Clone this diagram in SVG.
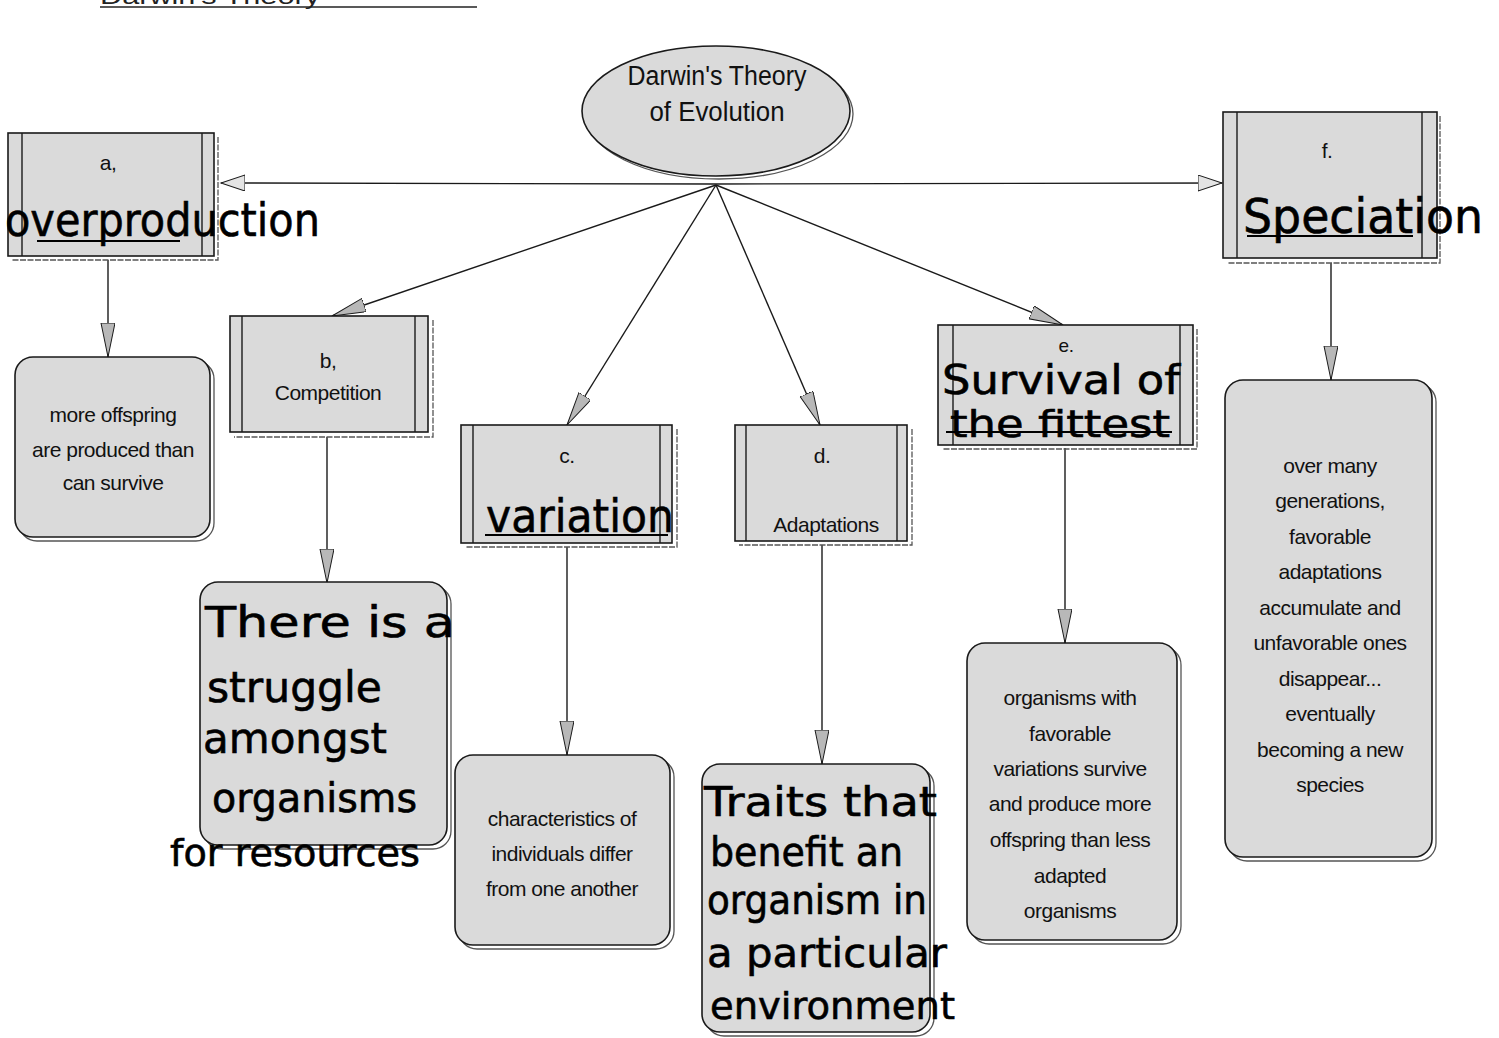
<svg xmlns="http://www.w3.org/2000/svg" width="1499" height="1038" viewBox="0 0 1499 1038">
<style>
.bg{fill:#ffffff}
.box{fill:#dadada;stroke:#1a1a1a;stroke-width:1.6}
.in{stroke:#1a1a1a;stroke-width:1.4;fill:none}
.sh{fill:none;stroke:#555;stroke-width:1.3;stroke-dasharray:6 1.5}
.t{font-family:"Liberation Sans",Arial,sans-serif;font-size:21px;fill:#111;text-anchor:middle;letter-spacing:-0.5px}
.hw{font-family:"DejaVu Sans",sans-serif;fill:#000;stroke:#000;stroke-width:0.6}
.ul{stroke:#000;stroke-width:2.2;fill:none}
.cn{stroke:#1a1a1a;stroke-width:1.4;fill:none}
</style>
<defs>
<marker id="ah" markerUnits="userSpaceOnUse" markerWidth="36" markerHeight="16" refX="34" refY="7" orient="auto">
<path d="M0,0 L34,7 L0,14 Z" fill="#b8b8b8" stroke="#1a1a1a" stroke-width="1"/>
</marker>
<marker id="ahw" markerUnits="userSpaceOnUse" markerWidth="26" markerHeight="18" refX="24" refY="8" orient="auto">
<path d="M0,0 L24,8 L0,16 Z" fill="#e4e4e4" stroke="#1a1a1a" stroke-width="1"/>
</marker>
</defs>
<rect class="bg" x="0" y="0" width="1499" height="1038"/>

<g id="title">
<text x="100" y="4" style="font-family:'Liberation Sans',Arial,sans-serif;font-size:22px;fill:#222" textLength="220" lengthAdjust="spacingAndGlyphs">Darwin's Theory</text>
<line x1="100" y1="7" x2="477" y2="7" stroke="#222" stroke-width="1.6"/>
</g>

<g id="connectors">
<line class="cn" x1="716" y1="184" x2="221" y2="183" marker-end="url(#ahw)"/>
<line class="cn" x1="716" y1="184" x2="1222" y2="183" marker-end="url(#ahw)"/>
<line class="cn" x1="716" y1="185" x2="332" y2="316" marker-end="url(#ah)"/>
<line class="cn" x1="716" y1="185" x2="567" y2="425" marker-end="url(#ah)"/>
<line class="cn" x1="716" y1="185" x2="820" y2="425" marker-end="url(#ah)"/>
<line class="cn" x1="716" y1="185" x2="1063" y2="325" marker-end="url(#ah)"/>
<line class="cn" x1="108" y1="260" x2="108" y2="357" marker-end="url(#ah)"/>
<line class="cn" x1="327" y1="437" x2="327" y2="583" marker-end="url(#ah)"/>
<line class="cn" x1="567" y1="547" x2="567" y2="755" marker-end="url(#ah)"/>
<line class="cn" x1="822" y1="545" x2="822" y2="764" marker-end="url(#ah)"/>
<line class="cn" x1="1065" y1="448" x2="1065" y2="643" marker-end="url(#ah)"/>
<line class="cn" x1="1331" y1="263" x2="1331" y2="380" marker-end="url(#ah)"/>
</g>

<g id="center">
<ellipse cx="719" cy="114" rx="134" ry="65" fill="none" stroke="#555" stroke-width="1.3"/>
<ellipse cx="716" cy="111" rx="134" ry="65" class="box"/>
<text x="717" y="85" style="font-family:'Liberation Sans',Arial,sans-serif;font-size:27px;fill:#111;text-anchor:middle" textLength="179" lengthAdjust="spacingAndGlyphs">Darwin's Theory</text>
<text x="717" y="121" style="font-family:'Liberation Sans',Arial,sans-serif;font-size:27px;fill:#111;text-anchor:middle" textLength="135" lengthAdjust="spacingAndGlyphs">of Evolution</text>
</g>

<g id="a">
<path class="sh" d="M218,137 V260 H12"/>
<rect class="box" x="8" y="133" width="206" height="123"/>
<line class="in" x1="22" y1="133" x2="22" y2="256"/>
<line class="in" x1="202" y1="133" x2="202" y2="256"/>
<text class="t" x="108" y="170">a,</text>
<text class="hw" x="5" y="236" style="font-size:46px" textLength="315" lengthAdjust="spacingAndGlyphs">overproduction</text>
<line class="ul" x1="37" y1="241" x2="180" y2="241"/>
</g>

<g id="a1">
<rect x="19" y="361" width="195" height="180" rx="18" class="sh" style="stroke-dasharray:none"/>
<rect x="15" y="357" width="195" height="180" rx="18" class="box"/>
<text class="t" x="113" y="422">more offspring</text>
<text class="t" x="113" y="457">are produced than</text>
<text class="t" x="113" y="490">can survive</text>
</g>

<g id="b">
<path class="sh" d="M433,320 V437 H234"/>
<rect class="box" x="230" y="316" width="198" height="116"/>
<line class="in" x1="242" y1="316" x2="242" y2="432"/>
<line class="in" x1="415" y1="316" x2="415" y2="432"/>
<text class="t" x="328" y="368">b,</text>
<text class="t" x="328" y="400">Competition</text>
</g>

<g id="b1">
<rect x="204" y="586" width="247" height="263" rx="18" class="sh" style="stroke-dasharray:none"/>
<rect x="200" y="582" width="247" height="263" rx="18" class="box"/>
<text class="hw" x="205" y="637" style="font-size:42px" textLength="250" lengthAdjust="spacingAndGlyphs">There is a</text>
<text class="hw" x="207" y="702" style="font-size:42px" textLength="175" lengthAdjust="spacingAndGlyphs">struggle</text>
<text class="hw" x="203" y="753" style="font-size:42px" textLength="184" lengthAdjust="spacingAndGlyphs">amongst</text>
<text class="hw" x="212" y="812" style="font-size:40px" textLength="205" lengthAdjust="spacingAndGlyphs">organisms</text>
<text class="hw" x="170" y="866" style="font-size:38px" textLength="250" lengthAdjust="spacingAndGlyphs">for resources</text>
</g>

<g id="c">
<path class="sh" d="M677,429 V547 H465"/>
<rect class="box" x="461" y="425" width="211" height="118"/>
<line class="in" x1="473" y1="425" x2="473" y2="543"/>
<line class="in" x1="660" y1="425" x2="660" y2="543"/>
<text class="t" x="567" y="463">c.</text>
<text class="hw" x="486" y="532" style="font-size:46px" textLength="188" lengthAdjust="spacingAndGlyphs">variation</text>
<line class="ul" x1="485" y1="535" x2="668" y2="535"/>
</g>

<g id="c1">
<rect x="459" y="759" width="215" height="190" rx="18" class="sh" style="stroke-dasharray:none"/>
<rect x="455" y="755" width="215" height="190" rx="18" class="box"/>
<text class="t" x="562" y="826">characteristics of</text>
<text class="t" x="562" y="861">individuals differ</text>
<text class="t" x="562" y="896">from one another</text>
</g>

<g id="d">
<path class="sh" d="M912,429 V545 H739"/>
<rect class="box" x="735" y="425" width="172" height="116"/>
<line class="in" x1="746" y1="425" x2="746" y2="541"/>
<line class="in" x1="897" y1="425" x2="897" y2="541"/>
<text class="t" x="822" y="463">d.</text>
<text class="t" x="826" y="532">Adaptations</text>
</g>

<g id="d1">
<rect x="706" y="768" width="228" height="268" rx="18" class="sh" style="stroke-dasharray:none"/>
<rect x="702" y="764" width="228" height="268" rx="18" class="box"/>
<text class="hw" x="704" y="816" style="font-size:40px" textLength="233" lengthAdjust="spacingAndGlyphs">Traits that</text>
<text class="hw" x="710" y="866" style="font-size:40px" textLength="193" lengthAdjust="spacingAndGlyphs">benefit an</text>
<text class="hw" x="707" y="914" style="font-size:40px" textLength="220" lengthAdjust="spacingAndGlyphs">organism in</text>
<text class="hw" x="707" y="967" style="font-size:40px" textLength="240" lengthAdjust="spacingAndGlyphs">a particular</text>
<text class="hw" x="710" y="1019" style="font-size:38px" textLength="245" lengthAdjust="spacingAndGlyphs">environment</text>
</g>

<g id="e">
<path class="sh" d="M1197,329 V449 H942"/>
<rect class="box" x="938" y="325" width="255" height="120"/>
<line class="in" x1="953" y1="325" x2="953" y2="445"/>
<line class="in" x1="1180" y1="325" x2="1180" y2="445"/>
<text class="t" x="1066" y="352" style="font-size:19px">e.</text>
<text class="hw" x="942" y="394" style="font-size:41px" textLength="238" lengthAdjust="spacingAndGlyphs">Survival of</text>
<text class="hw" x="950" y="437" style="font-size:38px" textLength="220" lengthAdjust="spacingAndGlyphs">the fittest</text>
<line class="ul" x1="946" y1="432" x2="1172" y2="432"/>
</g>

<g id="e1">
<rect x="971" y="647" width="210" height="297" rx="18" class="sh" style="stroke-dasharray:none"/>
<rect x="967" y="643" width="210" height="297" rx="18" class="box"/>
<text class="t" x="1070" y="705">organisms with</text>
<text class="t" x="1070" y="741">favorable</text>
<text class="t" x="1070" y="776">variations survive</text>
<text class="t" x="1070" y="811">and produce more</text>
<text class="t" x="1070" y="847">offspring than less</text>
<text class="t" x="1070" y="883">adapted</text>
<text class="t" x="1070" y="918">organisms</text>
</g>

<g id="f">
<path class="sh" d="M1440,116 V263 H1227"/>
<rect class="box" x="1223" y="112" width="214" height="146"/>
<line class="in" x1="1237" y1="112" x2="1237" y2="258"/>
<line class="in" x1="1422" y1="112" x2="1422" y2="258"/>
<text class="t" x="1327" y="158">f.</text>
<text class="hw" x="1243" y="233" style="font-size:48px" textLength="240" lengthAdjust="spacingAndGlyphs">Speciation</text>
<line class="ul" x1="1247" y1="236" x2="1413" y2="236"/>
</g>

<g id="f1">
<rect x="1229" y="384" width="207" height="477" rx="18" class="sh" style="stroke-dasharray:none"/>
<rect x="1225" y="380" width="207" height="477" rx="18" class="box"/>
<text class="t" x="1330" y="473">over many</text>
<text class="t" x="1330" y="508">generations,</text>
<text class="t" x="1330" y="544">favorable</text>
<text class="t" x="1330" y="579">adaptations</text>
<text class="t" x="1330" y="615">accumulate and</text>
<text class="t" x="1330" y="650">unfavorable ones</text>
<text class="t" x="1330" y="686">disappear...</text>
<text class="t" x="1330" y="721">eventually</text>
<text class="t" x="1330" y="757">becoming a new</text>
<text class="t" x="1330" y="792">species</text>
</g>
</svg>
